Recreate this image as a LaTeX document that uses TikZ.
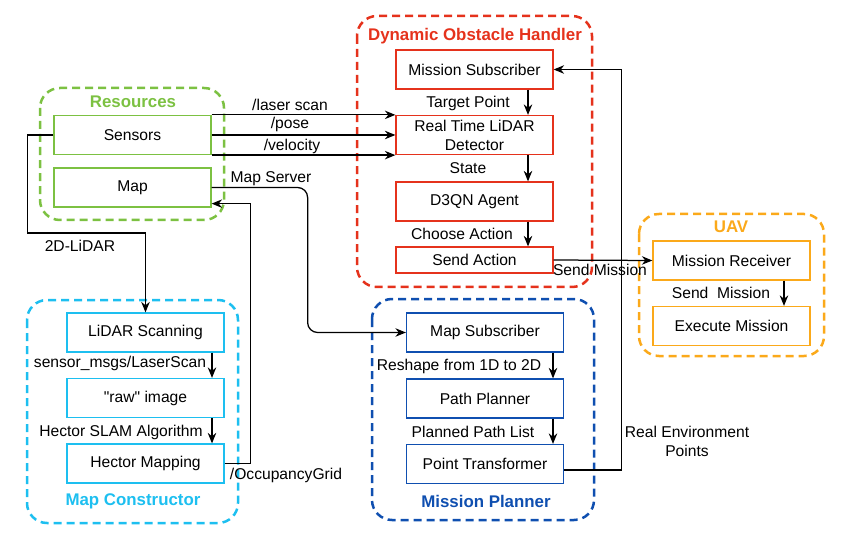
\documentclass[tikz,border=0pt]{standalone}
\usepackage{fontspec}
\setmainfont{Liberation Sans}[Ligatures=TeXOff]
\usetikzlibrary{arrows.meta}

\definecolor{resgreen}{HTML}{7CC142}
\definecolor{dohred}{HTML}{E5321C}
\definecolor{mapcyan}{HTML}{1DBFF0}
\definecolor{mpblue}{HTML}{0F4FB0}
\definecolor{uavorange}{HTML}{FBA91A}

\begin{document}
\begin{tikzpicture}[x=0.2mm,y=-0.2mm,font=\fontsize{8.9}{10.8}\selectfont]

\tikzstyle{cell}=[rectangle,draw,fill=white,line width=0.25mm,minimum width=31.4mm,minimum height=7.8mm,align=center,inner sep=1pt]
\tikzstyle{grp}=[line width=0.5mm,dash pattern=on 1.6mm off 1mm,rounded corners=4mm]
\tikzstyle{grptitle}=[font=\fontsize{9.6}{11}\selectfont\bfseries]
\tikzstyle{link}=[line width=0.25mm,-{Stealth[length=2.1mm,width=1.7mm]}]
\tikzstyle{lbl}=[inner sep=0pt,align=center]

\useasboundingbox (0,0) rectangle (842,542);

% groups
\draw[grp,resgreen] (40,88) rectangle (224,220);
\draw[grp,dohred] (357,16) rectangle (592,287);
\draw[grp,mapcyan] (27,300) rectangle (238,523);
\draw[grp,mpblue] (372,299) rectangle (594,520);
\draw[grp,uavorange] (639,214) rectangle (824,356);

\draw (133,102) node [grptitle,resgreen] {Resources} ;
\draw (475,36) node [grptitle,dohred] {Dynamic Obstacle Handler} ;
\draw (133,501) node [grptitle,mapcyan] {Map Constructor} ;
\draw (486,501) node [grptitle,mpblue] {Mission Planner} ;
\draw (731,227) node [grptitle,uavorange] {UAV} ;

% resources
\draw[resgreen] (132.5,135) node [cell] (sensors) {\color{black}Sensors} ;
\draw[resgreen] (132.5,187.5) node [cell] (map) {\color{black}Map} ;

% dynamic obstacle handler
\draw[dohred] (474.5,69.5) node [cell] (msub) {\color{black}Mission Subscriber} ;
\draw[dohred] (474.5,135) node [cell] (rtld) {\color{black}Real Time LiDAR\\\color{black}Detector} ;
\draw[dohred] (474.5,201.5) node [cell] (d3qn) {\color{black}D3QN Agent} ;
\draw[dohred] (474.5,260) node [cell,minimum height=5.2mm] (sact) {\color{black}Send Action} ;

% map constructor
\draw[mapcyan] (145.5,332.5) node [cell] (lscan) {\color{black}LiDAR Scanning} ;
\draw[mapcyan] (145.5,398) node [cell] (raw) {\color{black}"raw" image} ;
\draw[mapcyan] (145.5,463.5) node [cell] (hmap) {\color{black}Hector Mapping} ;

% mission planner
\draw[mpblue] (485,332.5) node [cell] (mapsub) {\color{black}Map Subscriber} ;
\draw[mpblue] (485,398.5) node [cell] (pplan) {\color{black}Path Planner} ;
\draw[mpblue] (485,464) node [cell] (ptr) {\color{black}Point Transformer} ;

% uav
\draw[uavorange] (731.5,260.5) node [cell] (mrec) {\color{black}Mission Receiver} ;
\draw[uavorange] (731.5,326) node [cell] (exec) {\color{black}Execute Mission} ;

% connectors
\draw[link] (sensors.north east) -- (rtld.north west) ;
\draw[link] (sensors.east) -- (rtld.west) ;
\draw[link] (sensors.south east) -- (rtld.south west) ;
\draw (290,105) node [lbl] {/laser scan} ;
\draw (290,124) node [lbl] {/pose} ;
\draw (292,146) node [lbl] {/velocity} ;

\draw[link,rounded corners=2mm] (map.east) -- ++(96,0) |- (mapsub.west) ;
\draw (271,179) node [lbl] {Map Server} ;

\draw[link] (hmap.east) -- ++(26,0) |- ([yshift=0.8mm]map.south east) ;
\draw (286,475) node [lbl] {/OccupancyGrid} ;

\draw[link] (sensors.west) -- ++(-26,0) -- ++(0,98) -| (lscan.north) ;
\draw (80,246) node [lbl] {2D-LiDAR} ;

\draw[link] ([xshift=10.7mm]msub.south) -- ([xshift=10.7mm]rtld.north) ;
\draw[link] ([xshift=10.7mm]rtld.south) -- ([xshift=10.7mm]d3qn.north) ;
\draw[link] ([xshift=10.7mm]d3qn.south) -- ([xshift=10.7mm]sact.north) ;
\draw (468,103) node [lbl] {Target Point} ;
\draw (468,168) node [lbl] {State} ;
\draw (462,234) node [lbl] {Choose Action} ;

\draw[link] ([xshift=13.3mm]lscan.south) -- ([xshift=13.3mm]raw.north) ;
\draw[link] ([xshift=13.3mm]raw.south) -- ([xshift=13.3mm]hmap.north) ;
\draw (120,363) node [lbl] {sensor\_msgs/LaserScan} ;
\draw (121,432) node [lbl] {Hector SLAM Algorithm} ;

\draw[link] ([xshift=13.6mm]mapsub.south) -- ([xshift=13.6mm]pplan.north) ;
\draw[link] ([xshift=13.6mm]pplan.south) -- ([xshift=13.6mm]ptr.north) ;
\draw (459,366) node [lbl] {Reshape from 1D to 2D} ;
\draw (473,432) node [lbl] {Planned Path List} ;

\draw[link] ([yshift=-1.2mm]ptr.east) -- ++(57,0) |- (msub.east) ;
\draw (687,441) node [lbl] {Real Environment\\Points} ;

\draw[link] (sact.east) -- (mrec.west) ;
\draw (600,270) node [lbl] {Send Mission} ;

\draw[link] ([xshift=10.5mm]mrec.south) -- ([xshift=10.5mm]exec.north) ;
\draw (721,293) node [lbl] {Send\ \ Mission} ;

\end{tikzpicture}
\end{document}
